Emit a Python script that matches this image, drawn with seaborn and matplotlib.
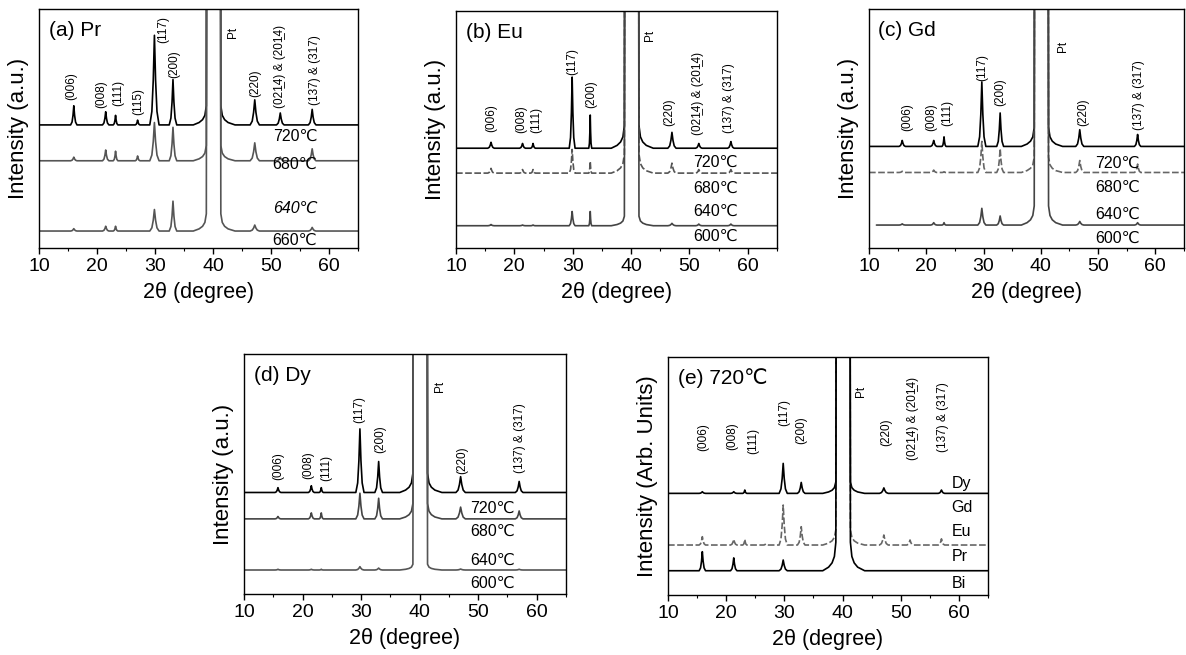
import numpy as np
import pandas as pd
import seaborn as sns
import matplotlib.pyplot as plt
from matplotlib.ticker import MultipleLocator

#%% data (2theta in degree, intensity in arbitrary units 0-100 per panel)
UL = "\u0332"  # combining low line -> bar notation under the 1
hkl_labels = ["(006)", "(008)", "(111)", "(115)", "(117)", "(200)", "(220)",
              "(021" + UL + "4) & (201" + UL + "4)", "(137) & (317)"]

# Pt(111) substrate peak, shared profile (offset above baseline, tails scaled per pattern)
pt_x = [36.6, 37.6, 38.2, 38.6, 38.85, 39.0, 41.2, 41.35, 41.6, 42.0, 42.6, 43.8]
pt_y = [0.0, 1.0, 2.2, 4.0, 8.0, 300.0, 300.0, 8.0, 4.0, 2.2, 1.0, 0.0]

# (a) Pr
a_pos = [16.0, 21.5, 23.2, 27.0, 29.9, 33.1, 47.2, 51.6, 57.1]
a_hw = [0.55, 0.55, 0.4, 0.4, 0.8, 0.65, 0.8, 0.65, 0.65]
a_base = [51.5, 36.5, 7.1]
a_heights = [[8.0, 5.5, 4.0, 2.0, 37.5, 19.0, 10.5, 5.0, 6.5],
             [1.5, 4.5, 4.0, 2.0, 16.0, 14.0, 7.5, 1.5, 5.0],
             [1.0, 2.0, 2.0, 0.0, 9.0, 12.5, 2.5, 0.0, 1.5]]
a_tail = [1.0, 0.8, 0.9]
a_temps = ["720℃", "680℃", "640℃", "660℃"]
a_temp_y = [46.9, 35.0, 16.6, 3.3]

# (b) Eu
b_pos = [16.0, 21.4, 23.2, 27.0, 29.9, 33.0, 47.0, 51.6, 57.1]
b_hw = [0.55, 0.5, 0.4, 0.4, 0.5, 0.25, 0.7, 0.55, 0.55]
b_base = [42.1, 31.6, 9.4]
b_heights = [[2.5, 2.0, 2.0, 0.0, 30.0, 14.0, 6.7, 2.0, 2.8],
             [2.0, 1.5, 1.5, 0.0, 10.0, 5.0, 4.2, 1.5, 1.5],
             [0.5, 0.3, 0.3, 0.0, 6.0, 6.0, 1.0, 0.7, 0.7]]
b_tail = [1.2, 1.0, 0.5]
b_temps = ["720℃", "680℃", "640℃", "600℃"]
b_temp_y = [36.2, 25.2, 15.4, 4.9]

# (c) Gd
c_pos = [15.8, 21.3, 23.1, 27.0, 29.7, 32.9, 46.8, 51.6, 56.9]
c_hw = [0.55, 0.55, 0.35, 0.4, 0.7, 0.6, 0.7, 0.55, 0.55]
c_base = [42.5, 31.6, 9.6]
c_heights = [[2.5, 2.5, 4.0, 0.0, 27.0, 14.0, 7.0, 0.0, 5.0],
             [0.5, 1.0, 0.3, 0.0, 13.0, 10.0, 5.0, 0.0, 3.5],
             [0.5, 1.0, 1.0, 0.0, 7.0, 3.8, 1.5, 0.0, 1.0]]
c_tail = [1.0, 0.8, 1.0]
c_temps = ["720℃", "680℃", "640℃", "600℃"]
c_temp_y = [35.5, 25.5, 13.9, 4.2]

# (d) Dy
d_pos = [15.8, 21.5, 23.2, 27.0, 29.8, 33.0, 47.0, 51.6, 57.0]
d_hw = [0.5, 0.5, 0.35, 0.4, 0.7, 0.65, 0.8, 0.55, 0.65]
d_base = [42.3, 31.3, 10.0]
d_heights = [[2.0, 2.8, 2.0, 0.0, 26.5, 12.9, 6.6, 0.0, 4.6],
             [1.0, 2.5, 2.5, 0.0, 10.7, 8.6, 4.9, 0.0, 3.3],
             [0.3, 0.3, 0.3, 0.0, 1.4, 0.8, 0.4, 0.0, 0.3]]
d_tail = [1.0, 0.8, 0.3]
d_temps = ["720℃", "680℃", "640℃", "600℃"]
d_temp_y = [35.8, 26.0, 14.2, 4.5]

# (e) 720C, different dopants
e_pos = [15.9, 21.3, 23.2, 26.8, 29.8, 32.9, 47.1, 51.6, 57.0]
e_hw = [0.55, 0.55, 0.35, 0.4, 0.7, 0.65, 0.75, 0.55, 0.55]
e_base = [42.7, 21.0, 10.2]
e_heights = [[0.7, 0.7, 1.4, 0.0, 12.6, 4.6, 2.3, 0.0, 1.4],
             [3.5, 2.4, 2.4, 0.5, 16.8, 7.7, 4.2, 2.1, 2.6],
             [8.0, 5.4, 0.0, 0.0, 4.5, 0.0, 0.0, 0.0, 0.0]]
e_tail = [0.6, 0.8, 1.5]
e_temps = ["Dy", "Gd", "Eu", "Pr", "Bi"]
e_temp_y = [46.9, 36.6, 26.6, 16.1, 4.9]

# label anchors (x, bottom y) for the hkl / Pt annotations per panel
a_lab_x = [15.6, 20.8, 23.7, 27.1, 31.4, 33.3, 47.2, 51.6, 57.6]
a_lab_y = [61.9, 58.4, 59.4, 55.6, 85.6, 71.0, 63.3, 58.4, 59.8]
b_lab_x = [16.1, 21.2, 23.8, None, 29.9, 33.2, 46.6, 51.4, 56.8]
b_lab_y = [49.1, 48.7, 48.7, None, 73.0, 58.9, 51.5, 47.7, 48.4]
c_lab_x = [16.7, 20.9, 23.6, None, 29.8, 33.0, 47.4, None, 57.2]
c_lab_y = [48.8, 48.8, 50.9, None, 69.7, 59.5, 50.9, None, 49.5]
d_lab_x = [15.8, 21.0, 24.0, None, 29.7, 33.2, 47.2, None, 57.2]
d_lab_y = [47.6, 47.8, 46.9, None, 71.2, 58.7, 50.1, None, 50.3]
e_lab_x = [16.1, 21.0, 24.6, None, 30.0, 32.9, 47.5, 52.1, 57.2]
e_lab_y = [60.6, 60.8, 59.4, None, 70.9, 63.4, 62.5, 56.7, 60.1]
pt_lab = {"a": (43.4, 90.0), "b": (43.2, 89.8), "c": (43.9, 84.3),
          "d": (43.5, 86.5), "e": (43.2, 85.7)}

titles = {"a": "(a) Pr", "b": "(b) Eu", "c": "(c) Gd", "d": "(d) Dy", "e": "(e) 720℃"}

#%% peak shape (fractions of half width / height)
PROF_X = [-1.0, -0.55, -0.25, 0.0, 0.25, 0.55, 1.0]
PROF_Y = [0.0, 0.15, 0.5, 1.0, 0.5, 0.15, 0.0]


def pattern(pos, hw, heights, base, tail, x0=10.0, x1=65.0):
    xs, ys = [x0], [base]
    for p, w, h in zip(pos, hw, heights):
        if h <= 0:
            continue
        for fx, fy in zip(PROF_X, PROF_Y):
            xs.append(p + fx * w)
            ys.append(base + fy * h)
    for px, py in zip(pt_x, pt_y):
        xs.append(px)
        ys.append(base + (py if py > 100 else py * tail))
    xs.append(x1)
    ys.append(base)
    order = np.argsort(xs, kind="stable")
    return pd.DataFrame({"x": np.array(xs)[order], "y": np.array(ys)[order]})


sns.set_style("ticks")
plt.rcParams["font.family"] = ["Liberation Sans", "DejaVu Sans"]
plt.rcParams["axes.linewidth"] = 1.0
plt.rcParams["text.color"] = "black"
plt.rcParams["axes.labelcolor"] = "black"
plt.rcParams["xtick.color"] = "black"
plt.rcParams["axes.edgecolor"] = "black"

fig = plt.figure(figsize=(11.86, 6.55), dpi=100)
W, H = 1186, 655
boxes = {"a": (39, 358, 9, 248), "b": (456, 777, 11, 248), "c": (869, 1184, 9, 248),
         "d": (244, 566, 354, 594), "e": (668, 988, 357, 595)}

panels = {
    "a": (a_pos, a_hw, a_base, a_heights, a_tail, a_temps, a_temp_y, 50.3, a_lab_x, a_lab_y),
    "b": (b_pos, b_hw, b_base, b_heights, b_tail, b_temps, b_temp_y, 50.7, b_lab_x, b_lab_y),
    "c": (c_pos, c_hw, c_base, c_heights, c_tail, c_temps, c_temp_y, 49.5, c_lab_x, c_lab_y),
    "d": (d_pos, d_hw, d_base, d_heights, d_tail, d_temps, d_temp_y, 48.6, d_lab_x, d_lab_y),
    "e": (e_pos, e_hw, e_base, e_heights, e_tail, e_temps, e_temp_y, 58.7, e_lab_x, e_lab_y),
}
styles = {
    "a": [("black", "-"), ("#555555", "-"), ("#555555", "-")],
    "b": [("black", "-"), ("#555555", (0, (4, 1.5))), ("#444444", "-")],
    "c": [("black", "-"), ("#666666", (0, (4, 1.5))), ("#444444", "-")],
    "d": [("black", "-"), ("#444444", "-"), ("#555555", "-")],
    "e": [("black", "-"), ("#666666", (0, (4, 1.5))), ("black", "-")],
}

for key, (pos, hw, bases, heights, tails, temps, temp_y, temp_x, lab_x, lab_y) in panels.items():
    l, r, t, b = boxes[key]
    ax = fig.add_axes([l / W, (H - b) / H, (r - l) / W, (b - t) / H])
    for i, (base, hts, tail) in enumerate(zip(bases, heights, tails)):
        x0 = 11.3 if (key == "c" and i == 2) else 10.0
        df = pattern(pos, hw, hts, base, tail, x0=x0)
        col, ls = styles[key][i]
        sns.lineplot(data=df, x="x", y="y", ax=ax, color=col, lw=1.2, linestyle=ls,
                     estimator=None, sort=False)
    for j, (txt, ty) in enumerate(zip(temps, temp_y)):
        st = "italic" if (key == "a" and j == 2) else "normal"
        ax.text(temp_x, ty, txt, fontsize=11.5, ha="left", va="center", style=st)
    for txt, lx, ly in zip(hkl_labels, lab_x, lab_y):
        if lx is None:
            continue
        ax.text(lx, ly, txt, rotation=90, fontsize=8.5, ha="center", va="bottom")
    ptx, pty = pt_lab[key]
    ax.text(ptx, pty, "Pt", rotation=90, fontsize=8.5, ha="center", va="center")
    ax.text(0.03, 0.91, titles[key], transform=ax.transAxes, fontsize=15,
            ha="left", va="center")

    ax.set_xlim(10, 65)
    ax.set_ylim(0, 100)
    ax.set_yticks([])
    ax.xaxis.set_major_locator(MultipleLocator(10))
    ax.xaxis.set_minor_locator(MultipleLocator(5))
    ax.tick_params(axis="x", which="major", direction="out", length=4, width=1,
                   labelsize=14, pad=3)
    ax.tick_params(axis="x", which="minor", direction="out", length=2, width=0.8)
    for sp in ax.spines.values():
        sp.set_visible(True)
        sp.set_color("black")
    ax.set_xlabel("2θ (degree)", fontsize=15.5, labelpad=5)
    ax.set_ylabel("Intensity (Arb. Units)" if key == "e" else "Intensity (a.u.)",
                  fontsize=16, labelpad=7)

plt.savefig("out.png", dpi=100)
